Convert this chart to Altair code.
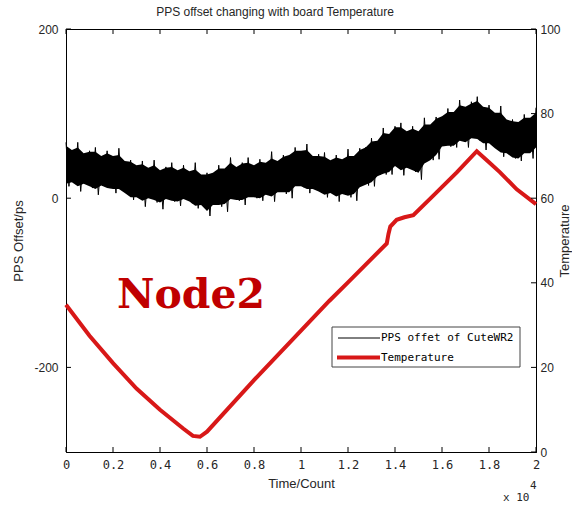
import altair as alt
import pandas as pd

# ---- data ----
x_band = [0, 0.025, 0.05, 0.075, 0.1, 0.125, 0.15, 0.175, 0.2, 0.225, 0.25, 0.275, 0.3, 0.325,
          0.35, 0.375, 0.4, 0.425, 0.45, 0.475, 0.5, 0.525, 0.55, 0.575, 0.6, 0.625, 0.65, 0.675,
          0.7, 0.725, 0.75, 0.775, 0.8, 0.825, 0.85, 0.875, 0.9, 0.925, 0.95, 0.975, 1.0, 1.025,
          1.05, 1.075, 1.1, 1.125, 1.15, 1.175, 1.2, 1.225, 1.25, 1.275, 1.3, 1.325, 1.35, 1.375,
          1.4, 1.425, 1.45, 1.475, 1.5, 1.525, 1.55, 1.575, 1.6, 1.625, 1.65, 1.675, 1.7, 1.725,
          1.75, 1.775, 1.8, 1.825, 1.85, 1.875, 1.9, 1.925, 1.95, 1.975, 2.0]
# dense core of the noisy PPS offset trace
core_hi = [62, 57, 60, 53, 55, 55, 50, 53, 50, 51,
           44, 43, 39, 40, 36, 39, 33, 36, 37, 33,
           36, 32, 34, 28, 28, 30, 35, 35, 42, 37,
           41, 42, 39, 43, 42, 47, 44, 49, 51, 56,
           56, 57, 50, 50, 49, 45, 48, 46, 50, 50,
           57, 60, 67, 68, 77, 76, 84, 84, 79, 82,
           79, 87, 87, 94, 97, 102, 102, 110, 108, 112,
           115, 108, 107, 101, 101, 93, 91, 90, 95, 95, 101]
core_lo = [17, 19, 14, 17, 14, 11, 15, 12, 11, 11,
           6, 1, 1, -3, 0, -2, -5, -1, -3, -4,
           -1, -4, -9, -8, -15, -8, -8, -7, -1, -2,
           -2, 1, 1, 0, 4, 2, 7, 7, 7, 14,
           14, 11, 11, 8, 4, 6, 2, 5, 3, 5,
           13, 16, 19, 26, 29, 31, 38, 33, 36, 33,
           30, 41, 45, 51, 61, 62, 62, 68, 66, 71,
           70, 65, 65, 59, 54, 53, 48, 47, 53, 53, 60]
# extreme excursions of the trace (peaks / troughs of the noise)
peak_hi = [66, 56, 66, 51, 56, 60, 47, 56, 49, 59,
           41, 45, 38, 44, 34, 45, 30, 37, 42, 29,
           39, 31, 42, 25, 30, 29, 39, 33, 48, 35,
           42, 48, 35, 46, 41, 55, 41, 51, 50, 60,
           54, 64, 47, 52, 54, 41, 51, 45, 58, 48,
           59, 60, 71, 67, 83, 74, 85, 89, 76, 85,
           78, 95, 85, 96, 96, 106, 101, 116, 105, 114,
           120, 104, 110, 100, 109, 90, 93, 89, 99, 93, 107]
trough_lo = [14, 21, 8, 18, 12, 4, 18, 12, 6, 13,
             6, -2, 3, -10, 1, -5, -13, 2, -4, -9,
             1, -6, -12, -7, -21, -8, -10, -16, 2, -3,
             -8, 3, 0, -3, 7, -4, 8, 5, 0, 17,
             13, 6, 14, 7, 1, 9, -4, 7, 1, -3,
             17, 15, 14, 28, 28, 28, 40, 27, 37, 31,
             22, 44, 45, 46, 63, 61, 60, 70, 60, 72,
             68, 57, 68, 58, 49, 55, 47, 44, 55, 47, 61]

temp_x = [0, 0.1, 0.2, 0.3, 0.4, 0.5, 0.54, 0.57, 0.6, 0.8, 1.0, 1.12, 1.2, 1.365, 1.372,
          1.38, 1.407, 1.44, 1.478, 1.563, 1.663, 1.748, 1.8, 1.847, 1.918, 2.0]
temp_v = [34.8, 27.5, 21, 15, 10, 5.5, 3.8, 3.6, 4.8, 17, 28.7, 35.7, 40.1, 49.3, 51.5,
          53.3, 54.9, 55.5, 56, 60.6, 66.1, 71.1, 68.5, 66.1, 62.1, 58.6]

x_ticks = [0, 0.2, 0.4, 0.6, 0.8, 1, 1.2, 1.4, 1.6, 1.8, 2]
left_ticks = [-200, 0, 200]
right_ticks = [0, 20, 40, 60, 80, 100]
legend_labels = ["PPS offet of CuteWR2", "Temperature"]
legend_colors = ["#000000", "#d81818"]

W, H = 470, 423
RED = "#d81818"
TXT = "#262626"

core_df = pd.DataFrame({"x": x_band, "hi": core_hi, "lo": core_lo})

# the trace swings between a peak and a trough inside every sample interval
trace_rows = []
for i, xv in enumerate(x_band):
    trace_rows.append({"order": 2 * i, "x": xv, "v": peak_hi[i]})
    if i < len(x_band) - 1:
        trace_rows.append({"order": 2 * i + 1, "x": (xv + x_band[i + 1]) / 2, "v": trough_lo[i]})
trace_df = pd.DataFrame(trace_rows)

temp_df = pd.DataFrame({"x": temp_x, "t": temp_v})
one = pd.DataFrame({"a": [0]})

x_scale = alt.Scale(domain=[0, 2], nice=False, zero=False)
x_axis = alt.Axis(values=x_ticks, format="~g", title="Time/Count", ticks=False,
                  labelFont="DejaVu Sans Mono", labelFontSize=12, labelColor=TXT,
                  labelPadding=7, titleFont="Liberation Sans", titleFontSize=13,
                  titleFontWeight="normal", titleColor=TXT, titlePadding=7,
                  domainColor="black", labelFlush=False)


def X(field):
    return alt.X(f"{field}:Q", scale=x_scale, axis=x_axis)


left_scale = alt.Scale(domain=[-300, 200], nice=False, zero=False)
right_scale = alt.Scale(domain=[0, 100], nice=False, zero=False)

core = alt.Chart(core_df).mark_area(color="black", opacity=1, interpolate="linear").encode(
    x=X("x"),
    y=alt.Y("hi:Q", scale=left_scale,
            axis=alt.Axis(orient="left", values=left_ticks, title="PPS Offset/ps", ticks=False,
                          labelExpr="'' + datum.value",
                          labelFont="Liberation Sans", labelFontSize=12, labelColor=TXT,
                          labelPadding=8, titleFont="Liberation Sans", titleFontSize=13,
                          titleFontWeight="normal", titleColor=TXT, titlePadding=8,
                          domainColor="black", labelFlush=False)),
    y2="lo:Q",
)

trace = alt.Chart(trace_df).mark_line(color="black", strokeWidth=1).encode(
    x=X("x"),
    y=alt.Y("v:Q", scale=left_scale, axis=None),
    order="order:Q",
)

temp = alt.Chart(temp_df).mark_line(color=RED, strokeWidth=4).encode(
    x=X("x"),
    y=alt.Y("t:Q", scale=right_scale,
            axis=alt.Axis(orient="right", values=right_ticks, title="Temperature", ticks=False,
                          labelFont="Liberation Sans", labelFontSize=12, labelColor=TXT,
                          labelPadding=4, titleFont="Liberation Sans", titleFontSize=13,
                          titleFontWeight="normal", titleColor=TXT, titlePadding=11,
                          titleAngle=270, domainColor="black", labelFlush=False)),
)

xt_df = pd.DataFrame({"x": x_ticks})
xt_bot = alt.Chart(xt_df).mark_rule(color="black").encode(
    x=X("x"), y=alt.value(H), y2=alt.value(H - 5))
xt_top = alt.Chart(xt_df).mark_rule(color="black").encode(
    x=X("x"), y=alt.value(0), y2=alt.value(5))
lt = alt.Chart(pd.DataFrame({"v": left_ticks})).mark_rule(color="black").encode(
    y=alt.Y("v:Q", scale=left_scale, axis=None), x=alt.value(0), x2=alt.value(5))
rt = alt.Chart(pd.DataFrame({"v": right_ticks})).mark_rule(color="black").encode(
    y=alt.Y("v:Q", scale=right_scale, axis=None), x=alt.value(W - 5), x2=alt.value(W))

# legend
leg_box = alt.Chart(one).mark_rect(fill="white", stroke="#444444", strokeWidth=1).encode(
    x=alt.value(266), x2=alt.value(454), y=alt.value(298), y2=alt.value(338))
leg_l1 = alt.Chart(one).mark_rule(color=legend_colors[0], strokeWidth=1).encode(
    x=alt.value(272), x2=alt.value(314), y=alt.value(309))
leg_l2 = alt.Chart(one).mark_rule(color=legend_colors[1], strokeWidth=4).encode(
    x=alt.value(271), x2=alt.value(314), y=alt.value(328.5))
leg_t1 = alt.Chart(one).mark_text(text=legend_labels[0], align="left", baseline="middle",
                                  font="DejaVu Sans Mono", fontSize=11, color="black").encode(
    x=alt.value(315), y=alt.value(309))
leg_t2 = alt.Chart(one).mark_text(text=legend_labels[1], align="left", baseline="middle",
                                  font="DejaVu Sans Mono", fontSize=11, color="black").encode(
    x=alt.value(315), y=alt.value(329))

node = alt.Chart(one).mark_text(text="Node2", align="left", baseline="alphabetic",
                                font="DejaVu Serif", fontSize=41, fontWeight="bold",
                                color="#c00000").encode(x=alt.value(51), y=alt.value(279))

exp_base = alt.Chart(one).mark_text(text="x 10", align="left", baseline="middle",
                                    font="DejaVu Sans Mono", fontSize=11, color=TXT).encode(
    x=alt.value(437), y=alt.value(469))
exp_sup = alt.Chart(one).mark_text(text="4", align="left", baseline="middle",
                                   font="DejaVu Sans Mono", fontSize=11, color=TXT).encode(
    x=alt.value(464), y=alt.value(457))

chart = alt.layer(
    core, trace, temp, xt_bot, xt_top, lt, rt,
    leg_box, leg_l1, leg_l2, leg_t1, leg_t2, node, exp_base, exp_sup,
).resolve_scale(y="independent").properties(
    width=W, height=H,
    title=alt.TitleParams("PPS offset changing with board Temperature", anchor="middle",
                          dx=-26, offset=4, font="Liberation Sans", fontSize=12,
                          fontWeight="normal", color=TXT),
    autosize=alt.AutoSizeParams(type="none"),
    padding={"left": 66, "top": 29, "right": 36, "bottom": 54},
    background="white",
).configure_view(stroke="black", strokeWidth=1).configure_axis(grid=False)

chart.save("out.html", embed_options={"renderer": "svg", "actions": False})
